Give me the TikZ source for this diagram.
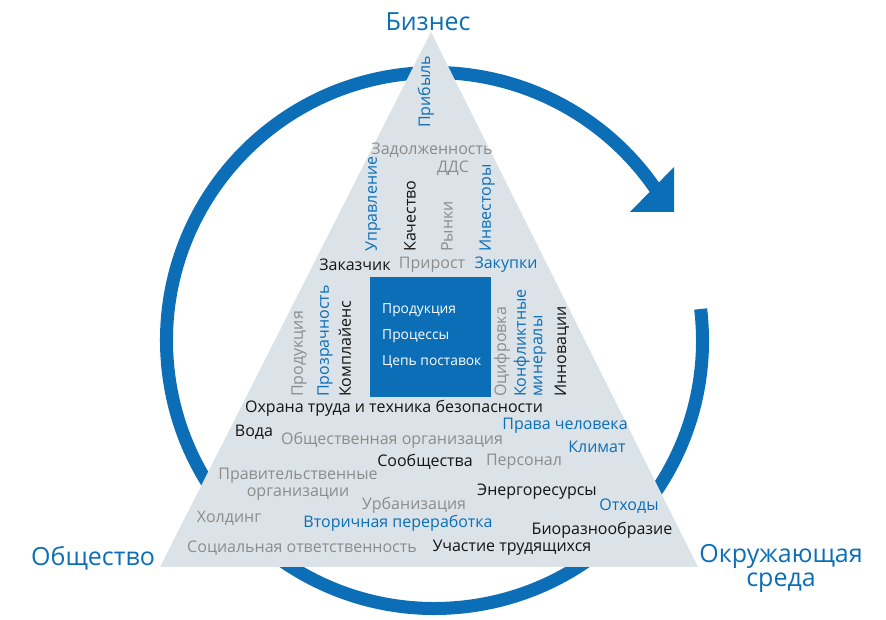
\documentclass[tikz,border=0pt]{standalone}
\usepackage{fontspec}
\setmainfont{Open Sans}
\definecolor{cycleblue}{HTML}{0B6EB6}
\definecolor{pyrgrey}{HTML}{DCE3E8}
\definecolor{wordgrey}{HTML}{8C8C8C}
\definecolor{wordblack}{HTML}{141414}
\begin{document}
\begin{tikzpicture}[x=1pt, y=1pt,
    word/.style={inner sep=0pt, font=\fontsize{16}{16.5}\selectfont},
    greyword/.style={word, text=wordgrey},
    darkword/.style={word, text=wordblack},
    blueword/.style={word, text=cycleblue},
    upright/.style={rotate=90, anchor=west},
    pillar/.style={inner sep=0pt, text=cycleblue, font=\fontsize{25}{24}\selectfont, align=center},
    boxword/.style={inner sep=0pt, anchor=west, text=white, font=\fontsize{13.8}{14}\selectfont}]
    \useasboundingbox (0,0) rectangle (886,620);

    % Cycle arrow behind the pyramid
    \draw[cycleblue, line width=13pt] ([shift={(6.75:268)}]434.5,279.5)
        arc[start angle=6.75, end angle=-326.5, radius=268];
    \fill[cycleblue] (674,453) -- (674,408) -- (630,408) -- cycle;

    % Pyramid
    \fill[pyrgrey] (431,588) -- (160,53) -- (698,53) -- cycle;

    % Core square
    \node[fill=cycleblue, inner sep=0pt, minimum width=121, minimum height=120] (core) at (430.5,283) {};
    \node[boxword] (corea) at (382,310) {Продукция};
    \node[boxword] (coreb) at (382,284) {Процессы};
    \node[boxword] (corec) at (382,258) {Цепь поставок};

    % Corners
    \node[pillar] (biz) at (428,598) {Бизнес};
    \node[pillar] (soc) at (93,62) {Общество};
    \node[pillar] (env) at (781,52) {Окружающая\\среда};

    % Top part
    \node[blueword, upright] (profit) at (426,492) {Прибыль};
    \node[greyword] (debt) at (432,470) {Задолженность};
    \node[greyword] (cash) at (453,452) {ДДС};
    \node[blueword, upright] (gov) at (373,368) {Управление};
    \node[darkword, upright] (qual) at (410,368) {Качество};
    \node[greyword, upright] (mark) at (447,368) {Рынки};
    \node[blueword, upright] (inv) at (487,368) {Инвесторы};
    \node[darkword] (cust) at (355,355) {Заказчик};
    \node[greyword] (grow) at (432,355) {Прирост};
    \node[blueword] (proc) at (506,355) {Закупки};

    % Middle part
    \node[greyword, upright] (prod) at (299,223) {Продукция};
    \node[blueword, upright] (trans) at (325,223) {Прозрачность};
    \node[darkword, upright] (comp) at (345,223) {Комплайенс};
    \node[greyword, upright] (digi) at (502,223) {Оцифровка};
    \node[blueword, upright, align=left] (mins) at (530,223) {Конфликтные\\минералы};
    \node[darkword, upright] (innov) at (562,223) {Инновации};
    \node[darkword] (safe) at (394,212) {Охрана труда и техника безопасности};

    % Lower part
    \node[darkword] (water) at (254,188) {Вода};
    \node[greyword] (ngo) at (392,180) {Общественная организация};
    \node[blueword] (human) at (565,194) {Права человека};
    \node[blueword] (clim) at (597,173) {Климат};
    \node[darkword] (comm) at (425,158) {Сообщества};
    \node[greyword] (staff) at (524,158) {Персонал};
    \node[greyword, align=center] (govorg) at (298,136) {Правительственные\\организации};
    \node[greyword] (urban) at (414,115) {Урбанизация};
    \node[darkword] (energy) at (537,128) {Энергоресурсы};
    \node[blueword] (waste) at (629,114) {Отходы};
    \node[greyword] (hold) at (229,102) {Холдинг};
    \node[blueword] (recyc) at (398,97) {Вторичная переработка};
    \node[darkword] (bio) at (602,90) {Биоразнообразие};
    \node[greyword] (csr) at (302,72) {Социальная ответственность};
    \node[darkword] (labour) at (512,72) {Участие трудящихся};
\end{tikzpicture}
\end{document}
